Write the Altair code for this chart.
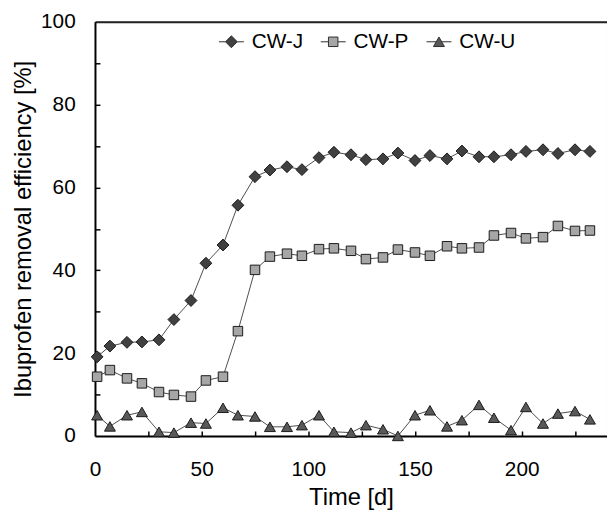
import altair as alt
import pandas as pd

# ---- data ----
days = [1, 7, 15, 22, 30, 37, 45, 52, 60, 67, 75, 82, 90, 97, 105, 112,
        120, 127, 135, 142, 150, 157, 165, 172, 180, 187, 195, 202, 210, 217, 225, 232]
cw_j = [19.1, 21.7, 22.6, 22.7, 23.2, 28.1, 32.7, 41.7, 46.1, 55.7, 62.6, 64.2, 65.0, 64.3, 67.2, 68.5,
        67.9, 66.7, 66.9, 68.3, 66.5, 67.7, 66.9, 68.8, 67.4, 67.4, 67.9, 68.7, 69.1, 68.2, 69.1, 68.7]
cw_p = [14.3, 15.9, 13.9, 12.7, 10.6, 9.9, 9.5, 13.4, 14.3, 25.3, 40.1, 43.3, 44.0, 43.5, 45.1, 45.3,
        44.7, 42.7, 43.1, 45.0, 44.3, 43.5, 45.8, 45.3, 45.5, 48.4, 49.0, 47.7, 48.0, 50.7, 49.5, 49.6]
cw_u = [5.0, 2.3, 5.0, 5.8, 1.0, 0.8, 3.2, 3.0, 6.8, 5.0, 4.7, 2.2, 2.2, 2.6, 5.0, 1.0,
        0.8, 2.6, 1.6, 0.0, 5.0, 6.2, 2.3, 3.8, 7.5, 4.4, 1.4, 7.0, 3.0, 5.4, 6.0, 4.0]
series_names = ["CW-J", "CW-P", "CW-U"]

x_label_values = [0, 50, 100, 150, 200]
x_tick_values = [25, 50, 75, 100, 125, 150, 175, 200, 225]
y_label_values = [0, 20, 40, 60, 80, 100]
y_tick_values = [10, 20, 30, 40, 50, 60, 70, 80, 90]

x_title = "Time [d]"
y_title = "Ibuprofen removal efficiency [%]"

# ---- styles ----
line_color = "#4d4d4d"
marker_stroke = "#1a1a1a"
legend_stroke = "#2e2e2e"
marker_fills = ["#404040", "#a6a6a6", "#595959"]
marker_shapes = ["diamond", "M-0.8,-0.8H0.8V0.8H-0.8Z", "M0,-0.8L0.92,0.8L-0.92,0.8Z"]
# legend symbols: marker with a short line through it
legend_shapes = [
    "M-2.1,0H-1M-1,0L0,-1L1,0L0,1ZM1,0H2.1",
    "M-2.1,0H-0.8M-0.8,-0.8H0.8V0.8H-0.8ZM0.8,0H2.1",
    "M-2.1,0H-0.46M0,-0.8L0.92,0.8L-0.92,0.8ZM0.46,0H2.1",
]
FONT = "Liberation Sans"
W, H = 518, 419

rows = []
for name, vals in zip(series_names, [cw_j, cw_p, cw_u]):
    for d, v in zip(days, vals):
        rows.append({"day": d, "eff": v, "series": name})
df = pd.DataFrame(rows)

xs = alt.Scale(domain=[0, 240], nice=False, zero=False)
ys = alt.Scale(domain=[0, 100], nice=False)

lines = alt.Chart(df).mark_line(strokeWidth=1, color=line_color).encode(
    x=alt.X("day:Q", scale=xs, axis=alt.Axis(
        orient="bottom", values=x_label_values, tickSize=0, labelPadding=23,
        labelFlush=False, domainWidth=2, domainColor="#000", title=x_title,
        titleFontSize=24, titlePadding=6, labelFontSize=21, grid=False,
        titleFontWeight="normal")),
    y=alt.Y("eff:Q", scale=ys, axis=alt.Axis(
        orient="left", values=y_label_values, tickSize=0, labelPadding=20,
        labelFlush=False, domainWidth=2, domainColor="#000", title=y_title,
        titleFontSize=24, titlePadding=5, labelFontSize=21, grid=False,
        titleFontWeight="normal")),
    detail="series:N",
)

points = alt.Chart(df).mark_point(filled=True, size=144, stroke=marker_stroke,
                                  strokeWidth=1, opacity=1).encode(
    x=alt.X("day:Q", scale=xs, axis=alt.Axis(
        orient="top", offset=-H, values=x_tick_values, tickSize=5, tickWidth=1.5,
        tickColor="#000", labels=False, domain=False, title=None, grid=False)),
    y=alt.Y("eff:Q", scale=ys, axis=alt.Axis(
        orient="right", offset=-W, values=y_tick_values, tickSize=5, tickWidth=1.5,
        tickColor="#000", labels=False, domain=False, title=None, grid=False)),
    shape=alt.Shape("series:N", scale=alt.Scale(domain=series_names, range=marker_shapes), legend=None),
    fill=alt.Fill("series:N", scale=alt.Scale(domain=series_names, range=marker_fills), legend=None),
)

leg = alt.Legend(orient="none", legendX=125, legendY=9.5, direction="horizontal",
                 title=None, symbolSize=144, symbolStrokeWidth=1, symbolOpacity=1,
                 symbolFillColor="#808080", symbolOffset=2.5, labelOffset=10,
                 labelFontSize=21, labelFont=FONT, labelColor="#000",
                 columnPadding=15, padding=0)

legend_layer = alt.Chart(df).transform_filter("false").mark_point(
    filled=False, size=144, strokeWidth=1, opacity=1).encode(
    x=alt.X("day:Q", scale=xs, axis=alt.Axis(
        orient="top", ticks=False, labels=False, domainWidth=2, domainColor="#222",
        title=None, grid=False)),
    y=alt.Y("eff:Q", scale=ys, axis=None),
    color=alt.Color("series:N", scale=alt.Scale(domain=series_names, range=[legend_stroke] * 3), legend=leg),
    fill=alt.Fill("series:N", scale=alt.Scale(domain=series_names, range=marker_fills), legend=leg),
    shape=alt.Shape("series:N", scale=alt.Scale(domain=series_names, range=legend_shapes), legend=leg),
)

chart = alt.layer(lines, points, legend_layer).resolve_scale(
    shape="independent", fill="independent", color="independent"
).resolve_axis(
    x="independent", y="independent"
).properties(
    width=W, height=H,
    autosize=alt.AutoSizeParams(type="none"),
    padding={"left": 88, "top": 11, "right": 0, "bottom": 73},
).configure(
    font=FONT
).configure_view(
    stroke="#808080", strokeWidth=1
).configure_axis(
    labelFont=FONT, titleFont=FONT, labelColor="#000", titleColor="#000",
    titleFontWeight="normal"
)

chart.save("out.html", embed_options={"renderer": "svg", "actions": False})
